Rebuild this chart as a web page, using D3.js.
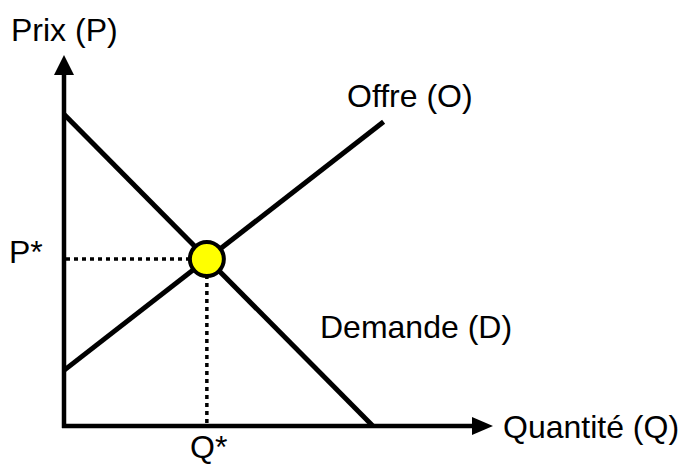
<!DOCTYPE html>
<html lang="fr">
<head>
  <meta charset="UTF-8" />
  <title>Offre et demande</title>
  <script src="https://d3js.org/d3.v7.min.js"></script>
  <style>
    body { margin: 0; background: #fff; }
    svg text { font-family: Arial, "Liberation Sans", Helvetica, sans-serif; font-size: 32px; fill: #000; }
  </style>
</head>
<body>
  <div id="chart"></div>
  <script>
    // courbes (quantité, prix) en unités arbitraires 0..100
    const demande = [[0, 84], [72, 0]];
    const offre = [[0, 15], [74.5, 82]];
    const equilibre = { q: 33.3, p: 45 };
    const labels = [
      { text: 'Prix (P)', x: 11, y: 41 },
      { text: 'Offre (O)', x: 347, y: 107 },
      { text: 'Demande (D)', x: 320, y: 338 },
      { text: 'Quantité (Q)', x: 503, y: 438 },
      { text: 'P*', x: 9, y: 263 },
      { text: 'Q*', x: 190, y: 458 }
    ];

    const W = 683, H = 466;
    const x0 = 64, y0 = 426;

    const x = d3.scaleLinear().domain([0, 100]).range([x0, 493]);
    const y = d3.scaleLinear().domain([0, 100]).range([y0, 55]);

    const svg = d3.select('#chart').append('svg')
      .attr('width', W)
      .attr('height', H);

    // axes
    svg.append('line')
      .attr('x1', x0).attr('y1', y0 + 2)
      .attr('x2', x0).attr('y2', y(100) + 15)
      .attr('stroke', '#000').attr('stroke-width', 4.5);
    svg.append('line')
      .attr('x1', x0 - 2).attr('y1', y0)
      .attr('x2', x(100) - 15).attr('y2', y0)
      .attr('stroke', '#000').attr('stroke-width', 4.5);

    svg.append('path')
      .attr('d', `M${x0},${y(100)} L${x0 + 10},${y(100) + 20} L${x0 - 10},${y(100) + 20} Z`)
      .attr('fill', '#000');
    svg.append('path')
      .attr('d', `M${x(100)},${y0} L${x(100) - 21},${y0 - 9} L${x(100) - 21},${y0 + 9} Z`)
      .attr('fill', '#000');

    const line = d3.line().x(d => x(d[0])).y(d => y(d[1]));

    svg.append('path').attr('d', line(demande))
      .attr('fill', 'none').attr('stroke', '#000').attr('stroke-width', 5);
    svg.append('path').attr('d', line(offre))
      .attr('fill', 'none').attr('stroke', '#000').attr('stroke-width', 5);

    // pointillés vers les axes
    const ex = x(equilibre.q), ey = y(equilibre.p);
    svg.append('line')
      .attr('x1', x0 + 2).attr('y1', ey)
      .attr('x2', ex).attr('y2', ey)
      .attr('stroke', '#000').attr('stroke-width', 3.5)
      .attr('stroke-dasharray', '4,4');
    svg.append('line')
      .attr('x1', ex).attr('y1', ey)
      .attr('x2', ex).attr('y2', y0 - 2)
      .attr('stroke', '#000').attr('stroke-width', 3.5)
      .attr('stroke-dasharray', '4,4');

    svg.append('circle')
      .attr('cx', ex).attr('cy', ey).attr('r', 17)
      .attr('fill', '#ffff00')
      .attr('stroke', '#000').attr('stroke-width', 4);

    svg.selectAll('text.lbl')
      .data(labels)
      .join('text')
      .attr('class', 'lbl')
      .attr('x', d => d.x)
      .attr('y', d => d.y)
      .text(d => d.text);
  </script>
</body>
</html>
